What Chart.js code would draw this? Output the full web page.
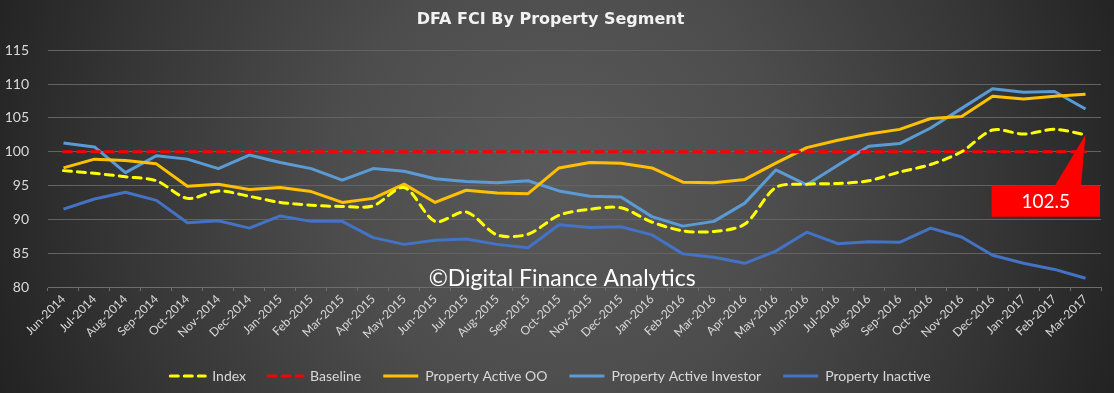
<!DOCTYPE html>
<html>
<head>
<meta charset="utf-8">
<script src="https://cdn.jsdelivr.net/npm/chart.js@4/dist/chart.umd.min.js"></script>
<style>
  html, body { margin: 0; padding: 0; background: #333; }
  #wrap { width: 1114px; height: 393px; position: relative; }
</style>
</head>
<body>
<div id="wrap"><canvas id="fci"></canvas></div>
<script>
// DFA FCI by property segment, Jun-2014 .. Mar-2017
var months = ['Jun-2014','Jul-2014','Aug-2014','Sep-2014','Oct-2014','Nov-2014','Dec-2014',
  'Jan-2015','Feb-2015','Mar-2015','Apr-2015','May-2015','Jun-2015','Jul-2015','Aug-2015','Sep-2015',
  'Oct-2015','Nov-2015','Dec-2015','Jan-2016','Feb-2016','Mar-2016','Apr-2016','May-2016','Jun-2016',
  'Jul-2016','Aug-2016','Sep-2016','Oct-2016','Nov-2016','Dec-2016','Jan-2017','Feb-2017','Mar-2017'];

var indexVals    = [97.2, 96.8, 96.3, 95.7, 93.1, 94.2, 93.4, 92.5, 92.1, 91.9, 92.0, 94.7,
                    89.7, 91.1, 87.7, 87.8, 90.6, 91.5, 91.7, 89.6, 88.3, 88.2, 89.3, 94.7,
                    95.2, 95.3, 95.7, 97.0, 98.1, 100.0, 103.2, 102.6, 103.3, 102.5];
var baselineVals = [100, 100, 100, 100, 100, 100, 100, 100, 100, 100, 100, 100,
                    100, 100, 100, 100, 100, 100, 100, 100, 100, 100, 100, 100,
                    100, 100, 100, 100, 100, 100, 100, 100, 100, 100];
var activeOO     = [97.6, 98.9, 98.7, 98.2, 94.9, 95.2, 94.4, 94.7, 94.1, 92.5, 93.1, 95.2,
                    92.5, 94.3, 93.9, 93.8, 97.6, 98.4, 98.3, 97.6, 95.5, 95.4, 95.9, 98.3,
                    100.6, 101.7, 102.6, 103.3, 104.9, 105.2, 108.2, 107.8, 108.2, 108.5];
var activeInv    = [101.3, 100.7, 96.9, 99.4, 98.9, 97.5, 99.5, 98.4, 97.5, 95.8, 97.5, 97.1,
                    96.0, 95.6, 95.4, 95.7, 94.2, 93.4, 93.3, 90.4, 89.0, 89.7, 92.4, 97.3,
                    95.1, 98.0, 100.8, 101.2, 103.5, 106.4, 109.3, 108.8, 108.9, 106.3];
var inactive     = [91.5, 93.0, 94.0, 92.8, 89.5, 89.8, 88.7, 90.5, 89.7, 89.7, 87.3, 86.3,
                    86.9, 87.1, 86.3, 85.8, 89.2, 88.8, 88.9, 87.7, 84.9, 84.4, 83.5, 85.3,
                    88.1, 86.4, 86.7, 86.6, 88.7, 87.4, 84.7, 83.5, 82.6, 81.3];
var yTicks = [80, 85, 90, 95, 100, 105, 110, 115];
var calloutText = '102.5';

var FONT = 'Lato, "Open Sans", sans-serif';
var TXT = '#d9d9d9';

var bgPlugin = {
  id: 'bg',
  beforeDraw: function (chart) {
    var ctx = chart.ctx;
    var w = chart.width, h = chart.height;
    var g = ctx.createRadialGradient(w * 0.5, h * 0.45, 0, w * 0.5, h * 0.45, w * 0.56);
    g.addColorStop(0, '#5a5a5a');
    g.addColorStop(0.35, '#4d4d4d');
    g.addColorStop(0.7, '#363636');
    g.addColorStop(1, '#1f1f1f');
    ctx.save();
    ctx.fillStyle = g;
    ctx.fillRect(0, 0, w, h);
    ctx.restore();
  }
};

// watermark + red callout for the latest index value
var notePlugin = {
  id: 'notes',
  afterDatasetsDraw: function (chart) {
    var ctx = chart.ctx;
    var area = chart.chartArea;
    var x = chart.scales.x, y = chart.scales.y;

    ctx.save();
    ctx.fillStyle = '#ffffff';
    ctx.font = '23px ' + FONT;
    ctx.textAlign = 'center';
    ctx.textBaseline = 'middle';
    ctx.fillText('\u00A9Digital Finance Analytics', x.getPixelForValue(16.1), y.getPixelForValue(81.2));

    var pts = chart.getDatasetMeta(0).data;
    var tip = pts[pts.length - 1];
    var left = x.getPixelForValue(30) - 1;
    var right = area.right - 1;
    var top = y.getPixelForValue(95);
    var bottom = y.getPixelForValue(90.4);
    ctx.fillStyle = '#ff0000';
    ctx.beginPath();
    ctx.moveTo(left, top);
    ctx.lineTo(right - 45, top);
    ctx.lineTo(tip.x, tip.y);
    ctx.lineTo(right - 19, top);
    ctx.lineTo(right, top);
    ctx.lineTo(right, bottom);
    ctx.lineTo(left, bottom);
    ctx.closePath();
    ctx.fill();
    ctx.fillStyle = '#ffffff';
    ctx.font = '19px ' + FONT;
    ctx.fillText(calloutText, (left + right) / 2, (top + bottom) / 2 + 1);
    ctx.restore();
  }
};

function lineSet(label, data, color, dashed, tension) {
  return {
    label: label,
    data: data,
    borderColor: color,
    backgroundColor: color,
    borderWidth: 3,
    borderDash: dashed ? [8, 6] : [],
    borderCapStyle: dashed ? 'round' : 'butt',
    borderJoinStyle: 'round',
    pointRadius: 0,
    pointHoverRadius: 0,
    tension: tension || 0,
    fill: false
  };
}

// default legend items take the point style, so copy the line look back in
function legendItems(chart) {
  var items = Chart.defaults.plugins.legend.labels.generateLabels(chart);
  items.forEach(function (it) {
    var ds = chart.data.datasets[it.datasetIndex];
    it.strokeStyle = ds.borderColor;
    it.fillStyle = ds.borderColor;
    it.lineWidth = 3;
    it.lineDash = ds.borderDash;
    it.lineCap = ds.borderCapStyle;
    it.pointStyle = 'line';
  });
  return items;
}

new Chart(document.getElementById('fci'), {
  type: 'line',
  data: {
    labels: months,
    datasets: [
      lineSet('Index', indexVals, '#ffff00', true, 0.3),
      lineSet('Baseline', baselineVals, '#ff0000', true),
      lineSet('Property Active OO', activeOO, '#ffc000', false),
      lineSet('Property Active Investor', activeInv, '#5b9bd5', false),
      lineSet('Property Inactive', inactive, '#4472c4', false)
    ]
  },
  options: {
    responsive: true,
    maintainAspectRatio: false,
    animation: false,
    layout: { padding: { left: 0, right: 13, top: 0, bottom: 0 } },
    plugins: {
      title: {
        display: true,
        text: 'DFA FCI By Property Segment',
        color: '#f2f2f2',
        font: { family: '"DejaVu Sans", "Open Sans", sans-serif', size: 16, weight: 'bold' },
        padding: { top: 10, bottom: 21 }
      },
      legend: {
        position: 'bottom',
        labels: {
          color: TXT,
          font: { family: FONT, size: 14 },
          usePointStyle: true,
          pointStyle: 'line',
          pointStyleWidth: 35,
          padding: 22,
          generateLabels: legendItems
        }
      },
      tooltip: { enabled: false }
    },
    scales: {
      x: {
        offset: true,
        grid: {
          display: true,
          drawOnChartArea: false,
          offset: true,
          color: '#6e6e6e',
          tickLength: 4
        },
        border: { display: true, color: '#6e6e6e' },
        ticks: {
          color: TXT,
          font: { family: FONT, size: 12 },
          minRotation: 45,
          maxRotation: 45,
          autoSkip: false,
          padding: 1
        },
        afterFit: function (s) { s.height = 60; }
      },
      y: {
        min: yTicks[0],
        max: yTicks[yTicks.length - 1],
        afterBuildTicks: function (s) { s.ticks = yTicks.map(function (v) { return { value: v }; }); },
        grid: { color: '#636363', drawTicks: false, lineWidth: 1 },
        border: { display: false },
        ticks: {
          color: TXT,
          font: { family: FONT, size: 14 },
          padding: 19
        },
        afterFit: function (s) { s.width = 48; }
      }
    }
  },
  plugins: [bgPlugin, notePlugin]
});
</script>
</body>
</html>
